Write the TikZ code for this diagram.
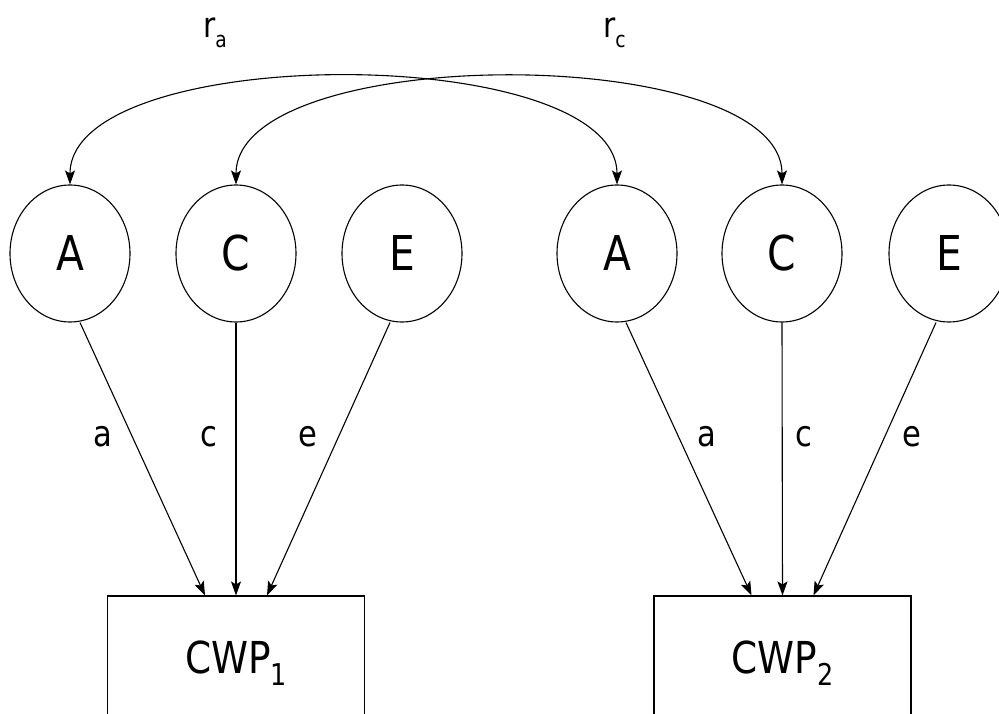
\documentclass[tikz,border=0pt]{standalone}
\usepackage{fontspec}
\setmainfont{DejaVu Sans}[FakeStretch=0.85]
\usetikzlibrary{shapes.geometric,arrows.meta}

% lowered subscript: size, drop, text
\newcommand{\lowsub}[3]{\raisebox{-#2}{\fontsize{#1}{#1}\selectfont #3}}

\begin{document}
\begin{tikzpicture}[x=1pt,y=1pt,
    latent/.style={draw, ellipse, minimum width=120pt, minimum height=137pt, inner sep=0pt, line width=1.1pt, font=\fontsize{48}{50}\selectfont},
    observed/.style={draw, rectangle, minimum width=257pt, minimum height=122pt, text depth=0pt, line width=1.1pt, font=\fontsize{44}{46}\selectfont},
    arr/.style={-{Stealth[length=14pt,width=10pt,inset=3pt]}, line width=1.1pt},
    corr/.style={{Stealth[length=14pt,width=10pt,inset=3pt]}-{Stealth[length=14pt,width=10pt,inset=3pt]}, line width=1.1pt},
    coef/.style={anchor=base west, inner sep=0pt, font=\fontsize{36}{38}\selectfont}]
    \useasboundingbox (0,0) rectangle (999,713);
    % twin 1
    \node[latent] (A1) at (70,459.5) {A};
    \node[latent] (C1) at (236,459.5) {C};
    \node[latent] (E1) at (402,459.5) {E};
    \node[observed] (cwp1) at (236,56) {CWP\lowsub{30pt}{12pt}{1}};
    % twin 2
    \node[latent] (A2) at (617,459.5) {A};
    \node[latent] (C2) at (782,459.5) {C};
    \node[latent] (E2) at (949,459.5) {E};
    \node[observed] (cwp2) at (782.5,56) {CWP\lowsub{30pt}{12pt}{2}};
    % paths
    \draw[arr] ([xshift=10pt]A1.south) -- ([xshift=-31pt]cwp1.north);
    \draw[arr] (C1.south) -- (cwp1.north);
    \draw[arr] ([xshift=-12pt]E1.south) -- ([xshift=31pt]cwp1.north);
    \draw[arr] ([xshift=9pt]A2.south) -- ([xshift=-31pt]cwp2.north);
    \draw[arr] (C2.south) -- (cwp2.north);
    \draw[arr] ([xshift=-13pt]E2.south) -- ([xshift=31pt]cwp2.north);
    \node[coef] (pa1) at (93,266) {a};
    \node[coef] (pc1) at (200,266) {c};
    \node[coef] (pe1) at (298,266) {e};
    \node[coef] (pa2) at (697,266) {a};
    \node[coef] (pc2) at (795,266) {c};
    \node[coef] (pe2) at (902,266) {e};
    % correlations
    \draw[corr] (A1) to[out=90,in=90,looseness=0.67] (A2);
    \draw[corr] (C1) to[out=90,in=90,looseness=0.67] (C2);
    \node[coef, font=\fontsize{35}{37}\selectfont] (ra) at (203,675) {r\lowsub{22pt}{10pt}{a}};
    \node[coef, font=\fontsize{35}{37}\selectfont] (rc) at (603,675) {r\lowsub{22pt}{10pt}{c}};
\end{tikzpicture}
\end{document}
